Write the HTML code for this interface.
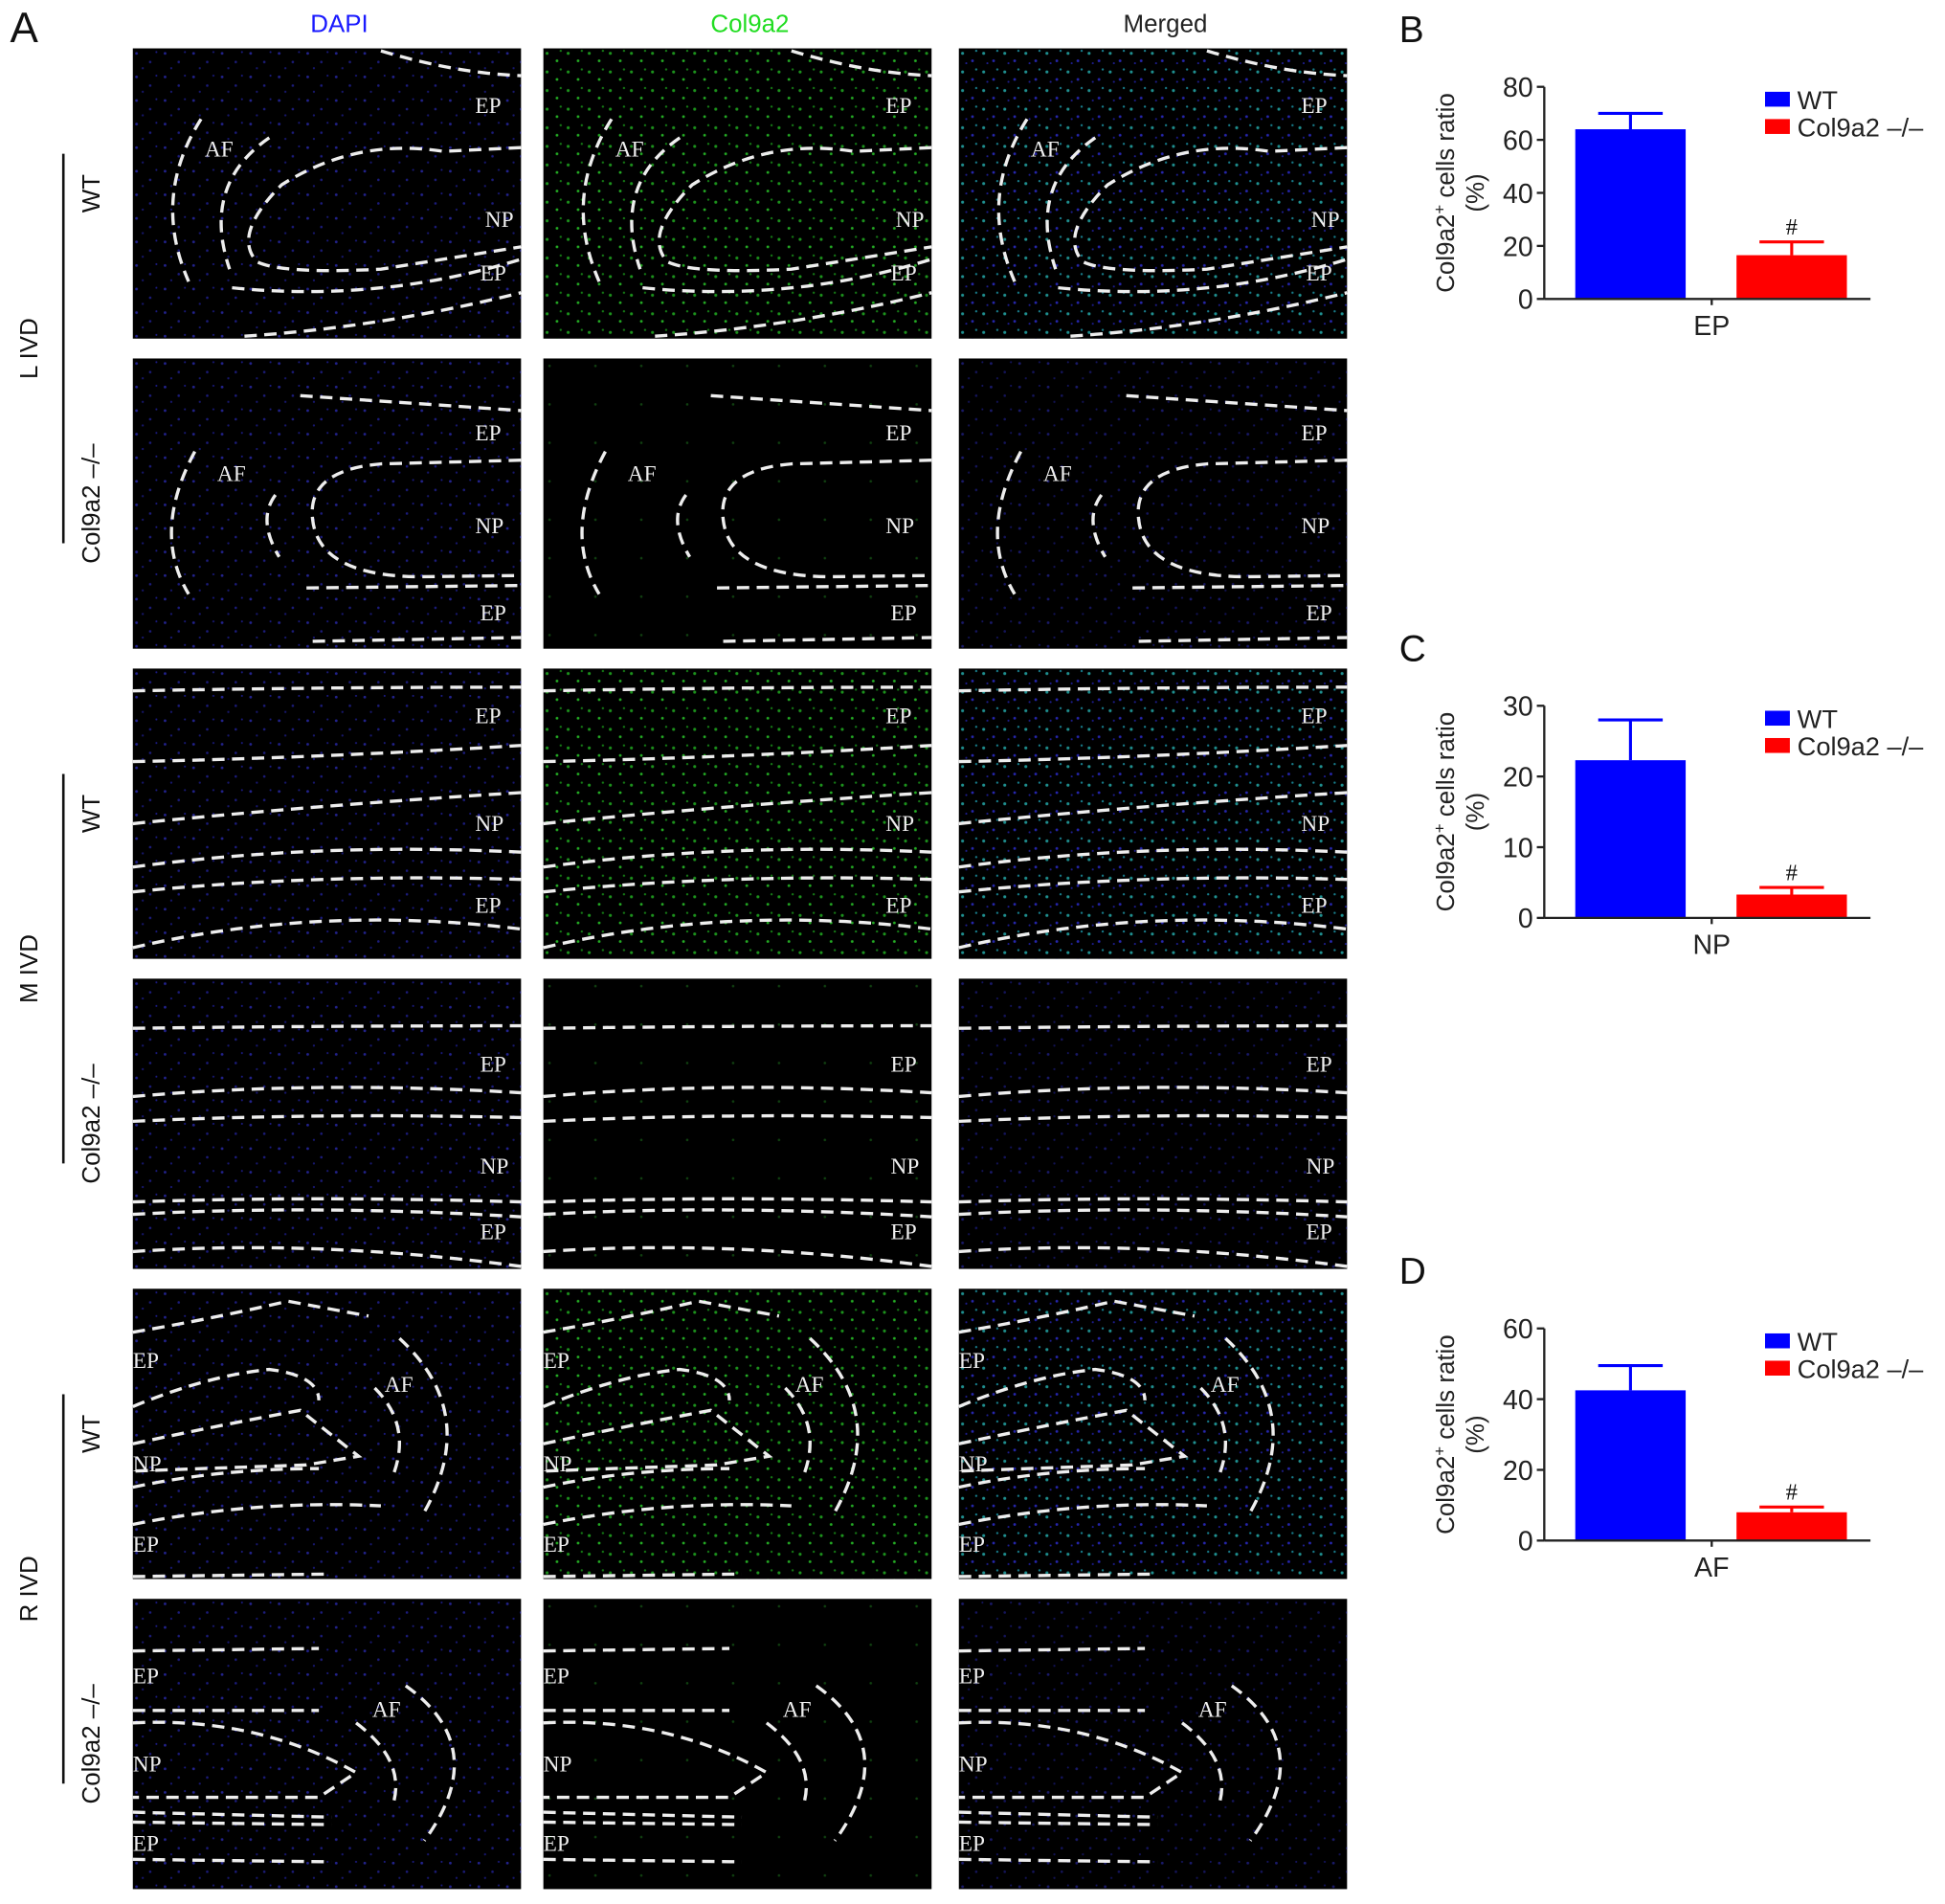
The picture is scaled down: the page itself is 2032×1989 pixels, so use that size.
<!DOCTYPE html>
<html><head><meta charset="utf-8"><style>
html,body{margin:0;padding:0;background:#fff;}
svg{display:block;font-family:"Liberation Sans",sans-serif;}
</style></head><body>
<svg id="fig" width="2032" height="1989" viewBox="0 0 1568 1535" xmlns="http://www.w3.org/2000/svg">
<defs>
<pattern id="pb" width="23" height="19" patternUnits="userSpaceOnUse"><circle cx="3" cy="4" r="1.1" fill="#2a2ab0"/><circle cx="14" cy="11" r="1" fill="#22229a"/><circle cx="8" cy="16" r="0.9" fill="#1c1c88"/><circle cx="19" cy="3" r="0.8" fill="#2020a0"/></pattern>
<pattern id="pg" width="17" height="15" patternUnits="userSpaceOnUse"><circle cx="3" cy="4" r="1.2" fill="#1fa21f"/><circle cx="11" cy="10" r="1.1" fill="#28c028"/><circle cx="14" cy="2" r="0.9" fill="#178817"/></pattern>
<pattern id="pm" width="17" height="15" patternUnits="userSpaceOnUse"><circle cx="3" cy="4" r="1.2" fill="#22a0a0"/><circle cx="11" cy="10" r="1.1" fill="#2a2ac0"/><circle cx="14" cy="2" r="0.9" fill="#1a8a9a"/><circle cx="6" cy="12" r="0.8" fill="#2020a0"/></pattern>
<pattern id="pk" width="37" height="31" patternUnits="userSpaceOnUse"><circle cx="5" cy="6" r="1" fill="#1a6a1a"/></pattern>
</defs>
<g id="panels"></g>
<g id="charts"></g>
</svg>
<script>
const NS="http://www.w3.org/2000/svg";
const svg=document.getElementById('fig');
function mk(tag,attrs,parent){const e=document.createElementNS(NS,tag);for(const k in attrs)e.setAttribute(k,attrs[k]);(parent||svg).appendChild(e);return e;}
function txt(s,attrs,parent){const e=mk('text',attrs,parent);e.textContent=s;return e;}

// ---------- Panel A ----------
const P=document.getElementById('panels');
const colX=[107,438,773], rowY=[39,289,539,789,1039,1289], PW=313, PH=234;
const colNames=['DAPI','Col9a2','Merged'], colColors=['#1a1aff','#22dd22','#222'];
const sA=txt('A',{x:8,y:34,'font-size':34,fill:'#111'},P);

colNames.forEach((n,i)=>{const t=txt(n,{x:colX[i]+PW/2+10,y:26,'text-anchor':'middle','font-size':20,fill:colColors[i]},P);
});

const paths={
 L_WT:["M200,2 Q260,20 313,22","M55,57 Q15,120 45,188","M110,72 Q55,110 78,178","M313,80 L250,83 Q180,72 120,110 Q80,150 100,172 Q120,182 200,178 L313,160","M80,193 Q200,205 313,170","M90,232 Q200,225 313,197"],
 L_KO:["M135,30 L313,42","M50,75 Q15,140 45,190","M115,110 Q100,130 118,160","M313,82 L200,85 Q140,90 145,130 Q150,175 230,176 L313,175","M140,185 L313,183","M145,228 L313,225"],
 M_WT:["M0,18 Q150,15 313,15","M0,75 Q150,72 313,62","M0,125 Q150,110 313,100","M0,160 Q150,140 313,148","M0,180 Q150,165 313,170","M0,225 Q150,190 313,210"],
 M_KO:["M0,40 Q150,38 313,38","M0,95 Q150,82 313,92","M0,115 Q150,108 313,112","M0,180 Q150,175 313,180","M0,190 Q150,182 313,192","M0,220 Q150,210 313,232"],
 R_WT:["M0,35 Q60,25 125,10 L190,22","M0,95 Q60,70 110,65 Q150,70 150,90","M0,125 Q70,110 135,98 L182,135 L140,142 L0,147","M0,160 Q70,145 150,145","M0,190 Q100,170 200,175","M0,232 L160,230","M215,40 Q280,100 235,180","M195,80 Q225,110 210,150"],
 R_KO:["M0,42 L150,40","M0,90 L150,90","M0,100 Q100,95 180,140 L150,160 L0,160","M0,172 L160,176","M0,180 L160,182","M0,210 L160,212","M180,100 Q220,130 210,165","M220,70 Q290,120 235,195"]
};
const labels={
 L_WT:[["EP",276,52],["AF",58,87],["NP",284,144],["EP",280,187]],
 L_KO:[["EP",276,66],["AF",68,99],["NP",276,141],["EP",280,211]],
 M_WT:[["EP",276,44],["NP",276,131],["EP",276,197]],
 M_KO:[["EP",280,75],["NP",280,157],["EP",280,210]],
 R_WT:[["EP",0,64],["AF",203,83],["NP",0,147],["EP",0,212]],
 R_KO:[["EP",0,68],["AF",193,95],["NP",0,139],["EP",0,203]]
};
const rowKeys=['L_WT','L_KO','M_WT','M_KO','R_WT','R_KO'];
rowKeys.forEach((rk,r)=>{
 const wt=rk.endsWith('WT');
 colX.forEach((cx,c)=>{
  const g=mk('g',{transform:`translate(${cx},${rowY[r]})`},P);
  
  
  mk('rect',{x:0,y:0,width:PW,height:PH,fill:'#000'},g);
  let pat = c===0?'pb':(c===1?(wt?'pg':'pk'):'pm');
  if(c===2&&!wt) pat='pb';
  mk('rect',{x:0,y:0,width:PW,height:PH,fill:`url(#${pat})`,opacity:(c===0?0.8:(wt?0.9:0.6))},g);
  paths[rk].forEach(d=>mk('path',{d:d,fill:'none',stroke:'#eee','stroke-width':2.6,'stroke-dasharray':'10 6'},g));
  labels[rk].forEach(l=>{const t=txt(l[0],{x:l[1],y:l[2],'font-size':18,fill:'#eee','font-family':'Liberation Serif, serif'},g);
   });
 });
});
const groups=[["L IVD",39,523],["M IVD",539,1023],["R IVD",1039,1523]];
groups.forEach((gr,i)=>{
 const mid=(gr[1]+gr[2])/2;
 const t=txt(gr[0],{x:0,y:0,transform:`translate(30,${mid}) rotate(-90)`,'text-anchor':'middle','font-size':20,fill:'#111'},P);
 
 const l=mk('line',{x1:51,x2:51,y1:gr[1]+85,y2:gr[2]-85,stroke:'#111','stroke-width':2},P);
 
 [["WT",gr[1]+117],["Col9a2 \u2013/\u2013",gr[1]+367]].forEach(s=>{
  const u=txt(s[0],{x:0,y:0,transform:`translate(80,${s[1]}) rotate(-90)`,'text-anchor':'middle','font-size':20,fill:'#111'},P);
  
 });
});

// ---------- Charts B, C, D ----------
const chartLetters=['B','C','D'];
const categories=['EP','NP','AF'];
const wtValues=[64,22.3,42.5];
const wtErrors=[6,5.7,7];
const koValues=[16.5,3.3,8];
const koErrors=[5,1,1.5];
const yMaxes=[80,30,60];
const yTickSets=[[0,20,40,60,80],[0,10,20,30],[0,20,40,60]];
const seriesNames=['WT','Col9a2 \u2013/\u2013'];
const seriesColors=['#0000ff','#ff0000'];
const chartTops=[70,569,1071], chartZeros=[241,740,1242];
const C=document.getElementById('charts');
const AX=1245, AXR=1508, barX=[1270,1400], barW=89, XC=1380;
chartLetters.forEach((L,i)=>{
 const g=mk('g',{},C);
 
 const top=chartTops[i], zero=chartZeros[i], ymax=yMaxes[i];
 const ys=v=>zero-(v/ymax)*(zero-top);
 const lt=txt(L,{x:1128,y:top-36,'font-size':30,fill:'#111'},g);
 
 [wtValues[i],koValues[i]].forEach((v,s)=>{
  const err=[wtErrors,koErrors][s][i];
  const b=mk('rect',{x:barX[s],y:ys(v),width:barW,height:zero-ys(v),fill:seriesColors[s]},g);
  
  const cx=barX[s]+barW/2;
  const e1=mk('line',{x1:cx,x2:cx,y1:ys(v),y2:ys(v+err),stroke:seriesColors[s],'stroke-width':2.4},g);
  
  const e2=mk('line',{x1:cx-26,x2:cx+26,y1:ys(v+err),y2:ys(v+err),stroke:seriesColors[s],'stroke-width':2.4},g);
  
  if(s===1){const h=txt('#',{x:cx,y:ys(v+err)-6,'text-anchor':'middle','font-size':19,fill:'#111','font-family':'Liberation Serif, serif'},g);
   }
 });
 const ya=mk('line',{x1:AX,x2:AX,y1:top,y2:zero,stroke:'#222','stroke-width':1.8},g);
 
 const xa=mk('line',{x1:AX,x2:AXR,y1:zero,y2:zero,stroke:'#222','stroke-width':1.8},g);
 
 mk('line',{x1:XC,x2:XC,y1:zero,y2:zero+5,stroke:'#222','stroke-width':1.8},g);
 yTickSets[i].forEach(t=>{
  mk('line',{x1:AX-6,x2:AX,y1:ys(t),y2:ys(t),stroke:'#222','stroke-width':1.8},g);
  const tl=txt(String(t),{x:AX-9,y:ys(t)+8,'text-anchor':'end','font-size':22,fill:'#222'},g);
  
 });
 const xl=txt(categories[i],{x:XC,y:zero+29,'text-anchor':'middle','font-size':22,fill:'#222'},g);
 
 const mid=(top+zero)/2;
 const yt=mk('text',{transform:`translate(1172,${mid}) rotate(-90)`,'text-anchor':'middle','font-size':20,fill:'#222'},g);
 yt.innerHTML='Col9a2<tspan dy="-7" font-size="13">+</tspan><tspan dy="7"> cells ratio</tspan>';
 
 const yt2=txt('(%)',{transform:`translate(1196,${mid}) rotate(-90)`,'text-anchor':'middle','font-size':20,fill:'#222'},g);
 
 seriesNames.forEach((n,s)=>{
  const ly=top+4+s*22;
  const lr=mk('rect',{x:1423,y:ly,width:20,height:12,fill:seriesColors[s]},g);
  
  const lt2=txt(n,{x:1449,y:ly+14,'font-size':21,fill:'#222'},g);
  
 });
});
</script>
</body></html>
